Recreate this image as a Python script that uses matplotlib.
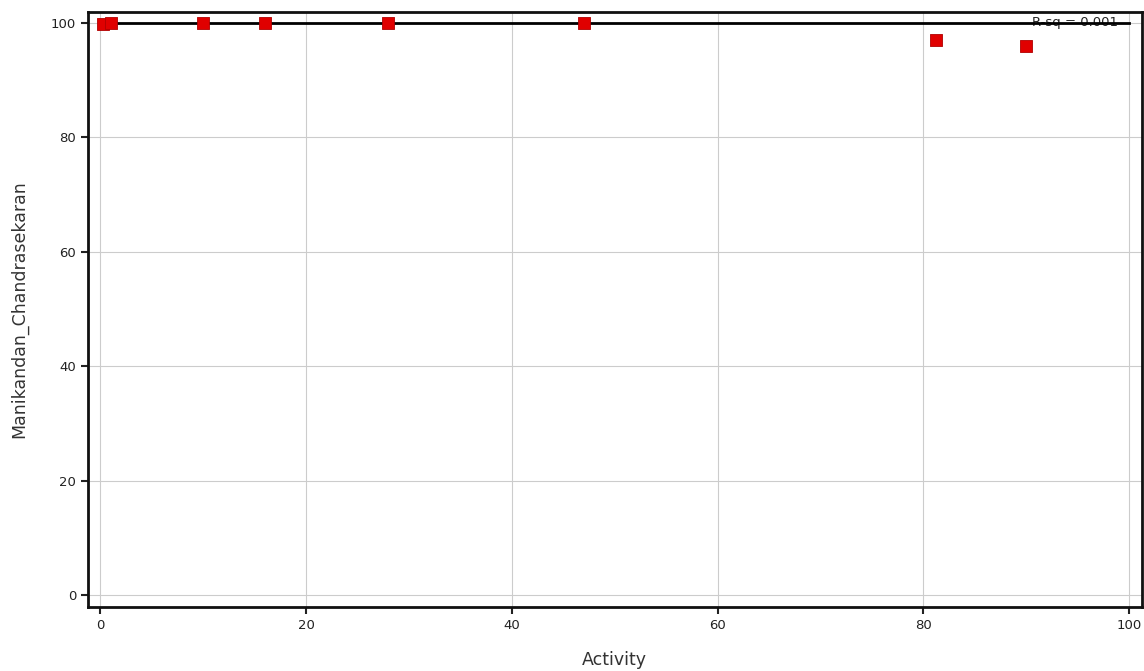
import matplotlib
matplotlib.use('Agg')
import matplotlib.pyplot as plt
import numpy as np

activity = [0.3, 1.0, 10.0, 16.0, 28.0, 47.0, 81.2, 90.0]
manikandan = [99.7, 99.9, 99.9, 99.9, 99.9, 99.9, 96.9, 96.0]

# fit line as shown on the chart
fit_x = [0.3, 100.0]
fit_intercept = 100.0
fit_slope = 0.0
r_sq_label = 'R-sq = 0.001'

x_ticks = [0, 20, 40, 60, 80, 100]
y_ticks = [0, 20, 40, 60, 80, 100]

fig = plt.figure(figsize=(11.44, 6.71), dpi=100)
ax = fig.add_axes([0.0769, 0.0954, 0.921, 0.887])

ax.grid(True, color='#cccccc', linewidth=0.8)
ax.set_axisbelow(True)

fx = np.array(fit_x)
ax.plot(fx, fit_intercept + fit_slope * fx, color='black', linewidth=2.0, zorder=2)
ax.scatter(activity, manikandan, marker='s', s=65, color='#e00000',
           edgecolors='#b00000', linewidths=0.6, zorder=3)
ax.text(94.7, fit_intercept, r_sq_label, fontsize=9.5, color='#222222',
        ha='center', va='center', zorder=1)

ax.set_xlim(-1.2, 101.2)
ax.set_ylim(-2.1, 101.9)
ax.set_xticks(x_ticks)
ax.set_yticks(y_ticks)
ax.tick_params(labelsize=9.5, length=5, width=1.5, colors='#222222')
for s in ax.spines.values():
    s.set_linewidth(2.0)
    s.set_color('#111111')

ax.set_xlabel('Activity', fontsize=12.5, color='#333333', labelpad=14)
ax.set_ylabel('Manikandan_Chandrasekaran', fontsize=12.5, color='#333333', labelpad=16)

fig.savefig('out.png', dpi=100)
